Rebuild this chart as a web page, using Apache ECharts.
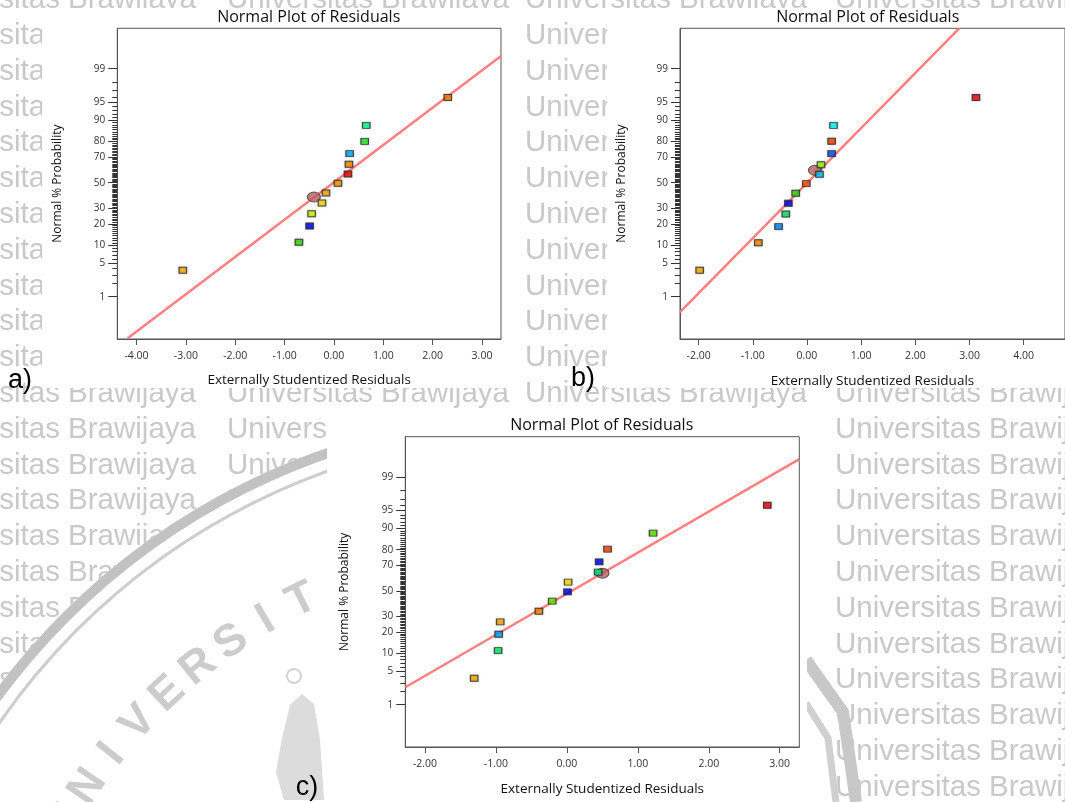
<!DOCTYPE html>
<html><head><meta charset="utf-8">
<script src="https://cdn.jsdelivr.net/npm/echarts@6/dist/echarts.min.js"></script>
<style>html,body{margin:0;padding:0;background:#fff;} #chart{width:1065px;height:802px;}</style>
</head><body><div id="chart"></div>
<script>
// ---------------- data ----------------
const chartTitle = 'Normal Plot of Residuals';
const xAxisName = 'Externally Studentized Residuals';
const yAxisName = 'Normal % Probability';
const panelLabels = ['a)', 'b)', 'c)'];
const probTickLabels = [1, 5, 10, 20, 30, 50, 70, 80, 90, 95, 99];
const xTicksA = [-4, -3, -2, -1, 0, 1, 2, 3];
const xTicksB = [-2, -1, 0, 1, 2, 3, 4];
const xTicksC = [-2, -1, 0, 1, 2, 3];

// chart a
const residA = [-3.063, -0.710, -0.493, -0.452, -0.243, -0.162, 0.081, 0.284, 0.304, 0.318, 0.623, 0.655, 2.306];
const probA  = [3.7, 11.2, 18.8, 26.3, 33.9, 41.7, 49.5, 57.0, 64.6, 72.3, 80.0, 87.9, 95.9];
const colorA = ['#ffb300', '#33dd00', '#0000ff', '#ccff00', '#ffe000', '#ffaa00', '#ff9900', '#ff0000', '#ff8c00', '#00aaff', '#22ee22', '#00ff88', '#ff8000'];
const circleA = [-0.406, 38.5];
const lineA = [[-4.18, 0.075], [3.385, 99.515]];

// chart b
const residB = [-1.98, -0.898, -0.524, -0.391, -0.343, -0.208, -0.012, 0.231, 0.259, 0.455, 0.455, 0.490, 3.119];
const probB  = [3.7, 11.0, 18.5, 26.1, 33.7, 41.4, 49.2, 56.8, 64.3, 72.3, 80.1, 87.9, 95.9];
const colorB = ['#ffb000', '#ff8c00', '#0088ff', '#00ee66', '#0000ff', '#33dd00', '#ff5500', '#00ccff', '#99ff00', '#0050ff', '#ff4000', '#00ffff', '#ff0000'];
const circleB = [0.147, 60.0];
const lineB = [[-2.343, 0.41], [2.81, 99.918]];

// chart c
const residC = [-1.306, -0.969, -0.961, -0.939, -0.394, -0.206, 0.009, 0.018, 0.441, 0.455, 0.573, 1.215, 2.825];
const probC  = [3.7, 11.1, 18.8, 26.3, 33.9, 41.7, 49.2, 57.1, 64.9, 72.3, 80.3, 88.1, 96.0];
const colorC = ['#ffb000', '#00ee66', '#00aaff', '#ffaa00', '#ff8800', '#66ee00', '#0000ff', '#ffe000', '#00ee88', '#0000ff', '#ff4400', '#55ee00', '#ff0000'];
const circleC = [0.502, 64.1];
const lineC = [[-2.277, 2.45], [3.276, 99.646]];

// ---------------- helpers ----------------
function probit(p) {
  const a=[-3.969683028665376e+01,2.209460984245205e+02,-2.759285104469687e+02,1.383577518672690e+02,-3.066479806614716e+01,2.506628277459239e+00];
  const b=[-5.447609879822406e+01,1.615858368580409e+02,-1.556989798598866e+02,6.680131188771972e+01,-1.328068155288572e+01];
  const c=[-7.784894002430293e-03,-3.223964580411365e-01,-2.400758277161838e+00,-2.549732539343734e+00,4.374664141464968e+00,2.938163982698783e+00];
  const d=[7.784695709041462e-03,3.224671290700398e-01,2.445134137142996e+00,3.754408661907416e+00];
  const pl=0.02425, ph=1-pl; let q,r;
  if(p<pl){q=Math.sqrt(-2*Math.log(p));return (((((c[0]*q+c[1])*q+c[2])*q+c[3])*q+c[4])*q+c[5])/((((d[0]*q+d[1])*q+d[2])*q+d[3])*q+1);}
  if(p<=ph){q=p-0.5;r=q*q;return (((((a[0]*r+a[1])*r+a[2])*r+a[3])*r+a[4])*r+a[5])*q/(((((b[0]*r+b[1])*r+b[2])*r+b[3])*r+b[4])*r+1);}
  q=Math.sqrt(-2*Math.log(1-p));return -(((((c[0]*q+c[1])*q+c[2])*q+c[3])*q+c[4])*q+c[5])/((((d[0]*q+d[1])*q+d[2])*q+d[3])*q+1);
}
const Z = pct => probit(pct / 100);
const zMajor = probTickLabels.map(Z);
const minorPct = [];
for (let p = 2; p <= 98; p++) if (probTickLabels.indexOf(p) < 0) minorPct.push(p);
const zMinor = minorPct.map(Z);
function probLabel(v) {
  let best = 0, bd = 1e9;
  zMajor.forEach((z, i) => { const dd = Math.abs(z - v); if (dd < bd) { bd = dd; best = i; } });
  return String(probTickLabels[best]);
}

const FONT = "'Open Sans', 'Noto Sans', sans-serif";
const Y_MIN = -3.19, Y_MAX = 3.15;
const AXIS_COLOR = '#555';

const panels = [
  { grid: {left: 117.3, top: 28.3, width: 383.7, height: 310.7}, xr: [-4.39, 3.385], ticks: xTicksA,
    resid: residA, prob: probA, color: colorA, circle: circleA, line: lineA, titleX: 308.7, titleY: 17.3, yGap: 54, xGap: 34 },
  { grid: {left: 680, top: 28.3, width: 400, height: 310.7}, xr: [-2.343, 4.762], ticks: xTicksB,
    resid: residB, prob: probB, color: colorB, circle: circleB, line: lineB, titleX: 867.7, titleY: 17.3, yGap: 52, xGap: 35 },
  { grid: {left: 405.3, top: 436.7, width: 394, height: 310.3}, xr: [-2.277, 3.276], ticks: xTicksC,
    resid: residC, prob: probC, color: colorC, circle: circleC, line: lineC, titleX: 601.7, titleY: 425.3, yGap: 55, xGap: 35 }
];

const grid = [], xAxis = [], yAxis = [], series = [], title = [];
panels.forEach((p, i) => {
  grid.push(Object.assign({show: true, backgroundColor: '#fff', borderColor: AXIS_COLOR, borderWidth: 1}, p.grid));
  title.push({text: chartTitle, left: p.titleX, top: p.titleY - 7.5, padding: 0, textAlign: 'center',
    textStyle: {fontFamily: FONT, fontSize: 16, fontWeight: 'normal', color: '#111'}});
  xAxis.push({type: 'value', gridIndex: i, min: p.xr[0], max: p.xr[1],
    axisLine: {show: true, onZero: false, lineStyle: {color: AXIS_COLOR, width: 1}},
    axisTick: {show: true, customValues: p.ticks, length: 6, lineStyle: {color: AXIS_COLOR}},
    axisLabel: {customValues: p.ticks, formatter: v => v.toFixed(2), fontFamily: FONT, fontSize: 10.5, color: '#333', margin: 12},
    splitLine: {show: false},
    name: xAxisName, nameLocation: 'middle', nameGap: p.xGap,
    nameTextStyle: {fontFamily: FONT, fontSize: 13.5, color: '#111'}});
  yAxis.push({type: 'value', gridIndex: i, min: Y_MIN, max: Y_MAX, position: 'left',
    axisLine: {show: true, onZero: false, lineStyle: {color: AXIS_COLOR, width: 1}},
    axisTick: {show: true, customValues: zMajor, length: 9, lineStyle: {color: '#333'}},
    axisLabel: {customValues: zMajor, formatter: probLabel, fontFamily: FONT, fontSize: 10, color: '#333', margin: 12},
    splitLine: {show: false},
    name: yAxisName, nameLocation: 'middle', nameGap: p.yGap, nameRotate: 90,
    nameTextStyle: {fontFamily: "'Liberation Sans Narrow', 'Open Sans', sans-serif", fontSize: 12, color: '#111'}});
  yAxis.push({type: 'value', gridIndex: i, min: Y_MIN, max: Y_MAX, position: 'left', offset: 0,
    axisLine: {show: false, onZero: false},
    axisTick: {show: true, customValues: zMinor, length: 5, lineStyle: {color: '#333'}},
    axisLabel: {show: false}, splitLine: {show: false}});
  const yIdx = i * 2;
  series.push({type: 'line', xAxisIndex: i, yAxisIndex: yIdx, data: p.line.map(d => [d[0], Z(d[1])]),
    symbol: 'none', clip: true, lineStyle: {color: '#ff8080', width: 2.5}, z: 2, silent: true});
  series.push({type: 'scatter', xAxisIndex: i, yAxisIndex: yIdx, data: [[p.circle[0], Z(p.circle[1])]],
    symbol: 'path://M0,50 A50,50 0 1,0 100,50 A50,50 0 1,0 0,50 Z', symbolSize: [13, 10],
    itemStyle: {color: '#b85c5c', borderColor: '#333', borderWidth: 1}, z: 3});
  series.push({type: 'scatter', xAxisIndex: i, yAxisIndex: yIdx,
    data: p.resid.map((x, k) => ({value: [x, Z(p.prob[k])], itemStyle: {color: p.color[k]}})),
    symbol: 'rect', symbolSize: [7.5, 6],
    itemStyle: {borderColor: '#2a2a2a', borderWidth: 1, shadowColor: 'rgba(0,0,0,0.35)', shadowBlur: 2}, z: 4});
});

// ---------------- background (page watermark + faded logo) ----------------
const wmText = 'Universitas Brawijaya';
const wmCols = [-86, 227, 525, 835];
const wmRows = 24;
const graphic = [];
wmCols.forEach(x => {
  graphic.push({type: 'text', z: -20, silent: true, x: x, y: -17.9,
    style: {text: Array(wmRows).fill(wmText).join('\n'), lineHeight: 35.8, fill: '#c9c9c9',
      font: "29.5px 'Liberation Sans', Arial, sans-serif", verticalAlign: 'top'}});
});
// logo: white interior bounded by its outer ring
const LC = [554, 1106], LR = 696;
const logoPts = [];
for (let deg = 180; deg <= 294; deg += 1) {
  const t = deg * Math.PI / 180;
  logoPts.push([LC[0] + LR * Math.cos(t), LC[1] + LR * Math.sin(t)]);
}
logoPts.push([835, 900], [-300, 900]);
graphic.push({type: 'polygon', z: -17, silent: true, shape: {points: logoPts}, style: {fill: '#fff'}});
graphic.push({type: 'arc', z: -15, silent: true, shape: {cx: LC[0], cy: LC[1], r: LR - 5, startAngle: Math.PI * 1.05, endAngle: Math.PI * 1.45},
  style: {stroke: '#c2c2c2', lineWidth: 10, fill: null}});
graphic.push({type: 'arc', z: -15, silent: true, shape: {cx: LC[0], cy: LC[1], r: LR - 22, startAngle: Math.PI * 1.05, endAngle: Math.PI * 1.45},
  style: {stroke: '#cdcdcd', lineWidth: 3, fill: null}});
const logoWord = 'UNIVERSITAS';
logoWord.split('').forEach((ch, k) => {
  const deg = 210.2 + 4.16 * k;
  const th = deg * Math.PI / 180;
  graphic.push({type: 'text', z: -15, silent: true,
    x: LC[0] + 565 * Math.cos(th), y: LC[1] + 565 * Math.sin(th), rotation: (270 - deg) * Math.PI / 180,
    style: {text: ch, fill: '#cccccc', font: "bold 45px 'Liberation Sans', Arial, sans-serif", align: 'center', verticalAlign: 'middle'}});
});
// emblem fragments of the logo
graphic.push({type: 'polyline', z: -15, silent: true, shape: {points: [[806, 660], [843, 712], [856, 802]]},
  style: {stroke: '#c8c8c8', lineWidth: 12, fill: null}});
graphic.push({type: 'polyline', z: -15, silent: true, shape: {points: [[806, 703], [828, 738], [836, 802]]},
  style: {stroke: '#d0d0d0', lineWidth: 7, fill: null}});
graphic.push({type: 'polygon', z: -15, silent: true,
  shape: {points: [[290, 705], [302, 694], [314, 704], [320, 740], [324, 800], [284, 800], [276, 772], [282, 738]]},
  style: {fill: '#dcdcdc'}});
graphic.push({type: 'circle', z: -15, silent: true, shape: {cx: 294, cy: 676, r: 7}, style: {stroke: '#d4d4d4', lineWidth: 2, fill: null}});
// white chart images
[[42, 8, 479, 380], [607, 8, 460, 380], [327, 408, 480, 394]].forEach(r => {
  graphic.push({type: 'rect', z: -10, silent: true, shape: {x: r[0], y: r[1], width: r[2], height: r[3]}, style: {fill: '#fff'}});
});
// panel labels
[[20, 381], [583, 379], [307, 788]].forEach((pos, i) => {
  graphic.push({type: 'text', z: 10, x: pos[0], y: pos[1],
    style: {text: panelLabels[i], fill: '#000', font: "27px 'Liberation Sans', Arial, sans-serif", align: 'center', verticalAlign: 'middle'}});
});

const chart = echarts.init(document.getElementById('chart'), null, {renderer: 'canvas'});
chart.setOption({animation: false, title, grid, xAxis, yAxis, series, graphic});
</script></body></html>
